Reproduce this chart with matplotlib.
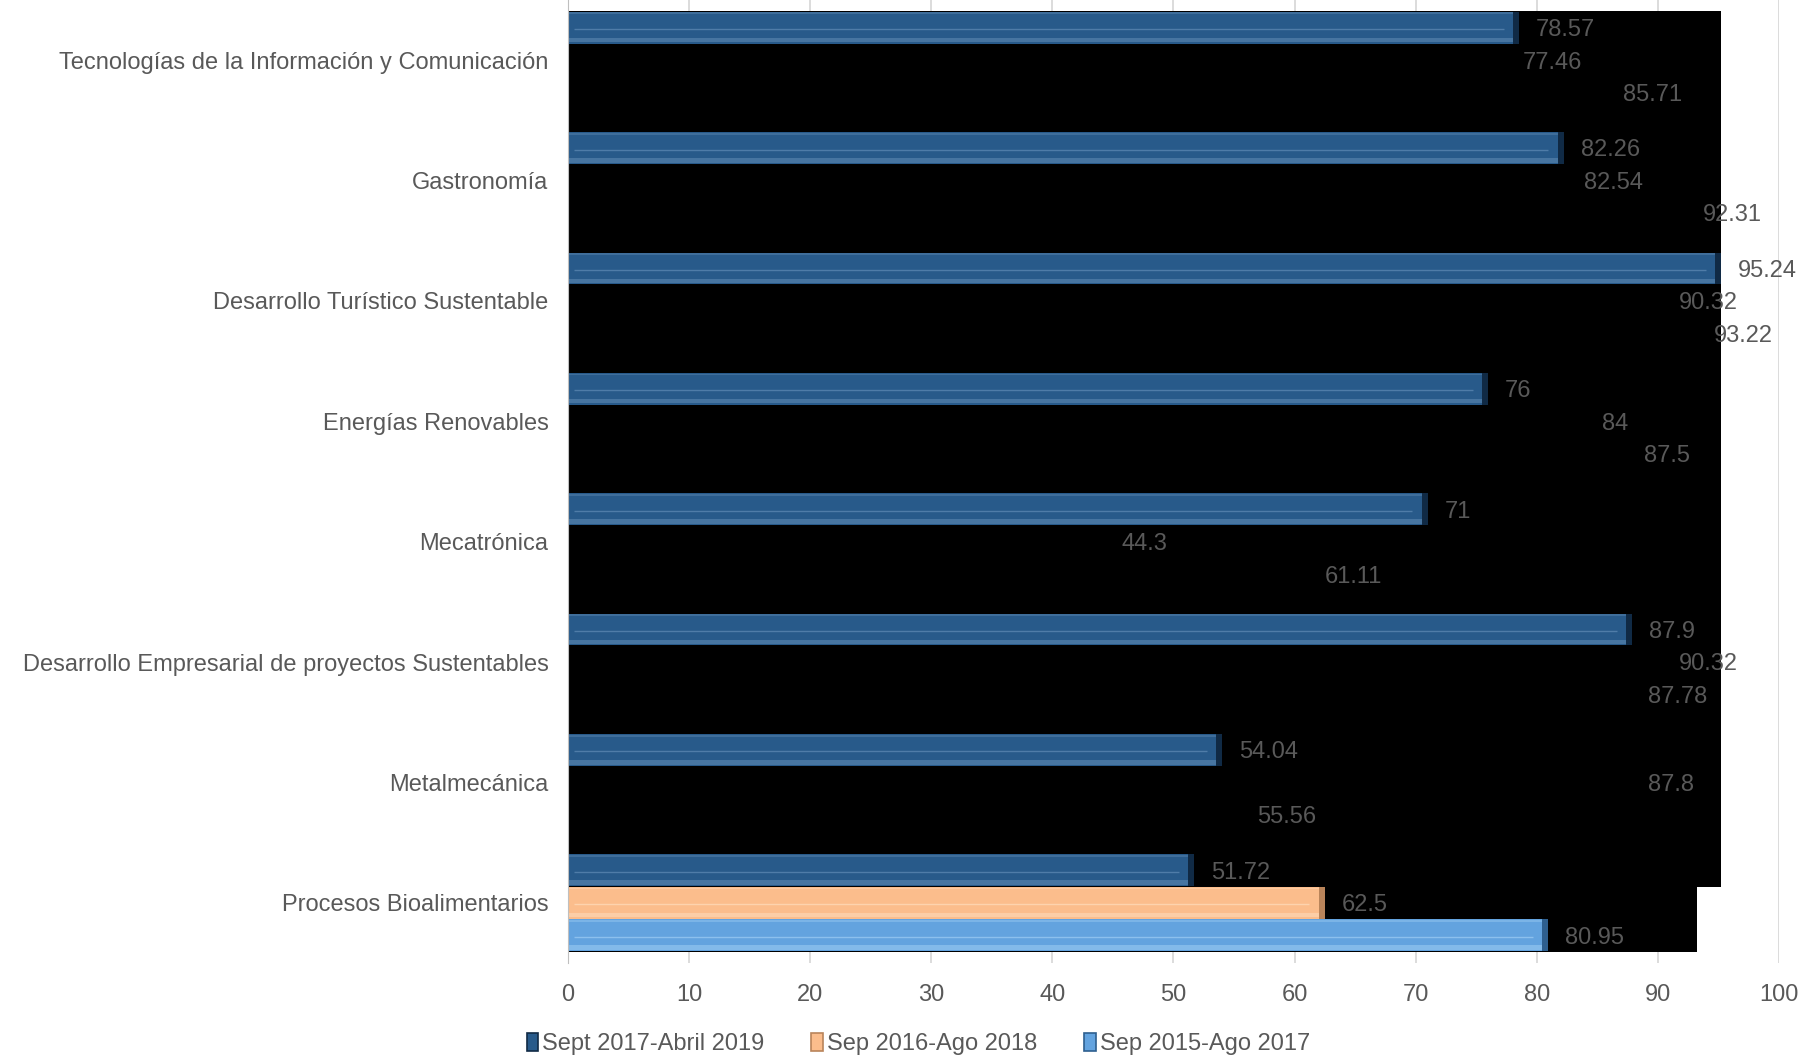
import matplotlib.pyplot as plt
import numpy as np
from matplotlib.patches import Patch

plt.rcParams['font.family'] = ['Liberation Sans', 'DejaVu Sans']

carreras = ['Tecnologías de la Información y Comunicación', 'Gastronomía',
            'Desarrollo Turístico Sustentable', 'Energías Renovables', 'Mecatrónica',
            'Desarrollo Empresarial de proyectos Sustentables', 'Metalmecánica',
            'Procesos Bioalimentarios']
sept17_abr19 = [78.57, 82.26, 95.24, 76, 71, 87.9, 54.04, 51.72]
sep16_ago18 = [77.46, 82.54, 90.32, 84, 44.3, 90.32, 87.8, 62.5]
sep15_ago17 = [85.71, 92.31, 93.22, 87.5, 61.11, 87.78, 55.56, 80.95]
series_names = ['Sept 2017-Abril 2019', 'Sep 2016-Ago 2018', 'Sep 2015-Ago 2017']
xticks = list(range(0, 101, 10))

colores = ['#285A8A', '#FBBD8C', '#63A3DF']
oscuros = ['#102A45', '#B9845A', '#2E5F8F']
claros = ['#4F7CA8', '#FDD3AE', '#8CC0EE']

fig = plt.figure(figsize=(18.11, 10.58), dpi=100)
ax = fig.add_axes([0.3136, 0.0898, 0.6687, 0.9102])

y = np.arange(len(carreras))
h = 0.27
offsets = [-h, 0, h]
series = [sept17_abr19, sep16_ago18, sep15_ago17]

# black block as in the original picture (only the last group shows all bars)
todos = sept17_abr19 + sep16_ago18 + sep15_ago17
ultimo = y[-1]
ax.fill_between([0, max(todos)], y[0] - 1.5 * h, ultimo - 0.5 * h, color='black', lw=0, zorder=1)
ax.fill_between([0, max(sep16_ago18 + sep15_ago17)], ultimo - 0.5 * h, ultimo + 1.5 * h,
                color='black', lw=0, zorder=1)

for k, vals in enumerate(series):
    if k == 0:
        idx = list(range(len(carreras)))
    else:
        idx = [len(carreras) - 1]
    for i in idx:
        v = vals[i]
        yc = y[i] + offsets[k]
        ax.barh(yc, v, height=h * 0.98, color=colores[k], lw=0, zorder=2)
        ax.barh(yc + h * 0.38, v, height=h * 0.14, color=claros[k], lw=0, zorder=3, alpha=0.8)
        ax.barh(yc - h * 0.44, v, height=h * 0.06, color=claros[k], lw=0, zorder=3, alpha=0.6)
        ax.barh(yc, 0.5, left=v - 0.5, height=h * 0.98, color=oscuros[k], lw=0, zorder=3)
        ax.hlines(yc + 0.012, 0.5, v - 1.3, color=claros[k], lw=1.0, zorder=3)
    for i in range(len(carreras)):
        ax.annotate(str(vals[i]), (vals[i], y[i] + offsets[k] + 0.02), xytext=(12, 0),
                    textcoords='offset points', va='center', ha='left',
                    fontsize=17, color='#595959', zorder=5)

ax.set_ylim(len(carreras) - 0.5, -0.5)
ax.set_xlim(0, 100)
ax.set_yticks(y)
ax.set_yticklabels(carreras, fontsize=17, color='#595959')
ax.set_xticks(xticks)
ax.set_xticklabels([str(t) for t in xticks], fontsize=17, color='#595959')
ax.tick_params(axis='y', length=0, pad=14)
ax.tick_params(axis='x', length=0, pad=15)
ax.grid(axis='x', color='#D9D9D9', lw=1.3, zorder=0)
ax.set_axisbelow(True)
for s in ['top', 'right', 'bottom']:
    ax.spines[s].set_visible(False)
ax.spines['left'].set_color('#BFBFBF')
ax.spines['left'].set_zorder(4)

handles = [Patch(facecolor=colores[k], edgecolor=oscuros[k], lw=1.2) for k in range(3)]
fig.legend(handles, series_names, loc='center', bbox_to_anchor=(0.507, 0.013), ncol=3,
           frameon=False, fontsize=17, labelcolor='#595959', handlelength=0.5,
           handleheight=0.8, handletextpad=0.15, columnspacing=2.0)

plt.savefig('out.png', dpi=100)
